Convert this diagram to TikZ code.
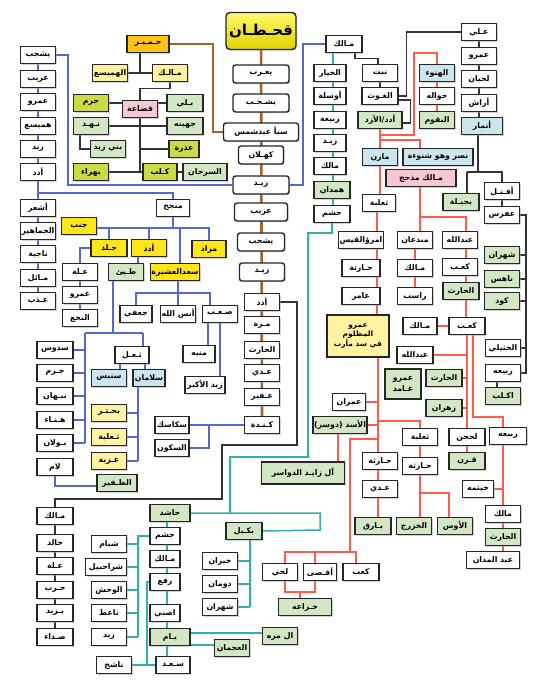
\documentclass[tikz,border=0pt]{standalone}
\usepackage{fontspec}
\newfontfamily\arb[Script=Arabic]{DejaVu Sans}
\TeXXeTstate=1
\usetikzlibrary{shadows}
\newcommand\AR[1]{\beginR#1\endR}
\definecolor{cY}{HTML}{FFE51A}
\definecolor{cO}{HTML}{FFC413}
\definecolor{cLY}{HTML}{FFF2A0}
\definecolor{cLime}{HTML}{CBDA45}
\definecolor{cG}{HTML}{D2E7C4}
\definecolor{cB}{HTML}{CBE6EF}
\definecolor{cP}{HTML}{F6C8D2}
\definecolor{lBr}{HTML}{A5622A}
\definecolor{lBl}{HTML}{5468D4}
\definecolor{lTe}{HTML}{2FB0AC}
\definecolor{lRe}{HTML}{FF5A4A}
\definecolor{lDk}{HTML}{333333}
\definecolor{qA}{HTML}{FFF86A}
\definecolor{qB}{HTML}{E2D300}
\pgfdeclarelayer{bg}
\pgfsetlayers{bg,main}
\tikzset{
  box/.style={draw=black!85,line width=1.4pt,fill=white,minimum height=17pt,minimum width=35pt,inner sep=1pt,
    drop shadow={shadow xshift=1.1pt,shadow yshift=-1.1pt,fill=black!35},
    font=\arb\bfseries\fontsize{7.8}{8.5}\selectfont},
  rbox/.style={box,rounded corners=2.5pt,minimum height=18pt},
  mw/.style={minimum width=#1pt},
  brl/.style={draw=lBr,line width=2.6pt},
  bll/.style={draw=lBl,line width=1.3pt},
  tll/.style={draw=lTe,line width=1.5pt},
  rdl/.style={draw=lRe,line width=1.5pt},
  dkl/.style={draw=lDk,line width=1.3pt},
}
\begin{document}
\begin{tikzpicture}[x=1pt,y=-1pt]
\useasboundingbox (0,0) rectangle (550,684);
% ---------- central column
\node[rbox,mw=70,minimum height=37pt,top color=qA,bottom color=qB,rounded corners=4pt,font=\arb\bfseries\fontsize{15}{17}\selectfont] (Q) at (261,31) {\AR{قحـطـان}};
\node[rbox,mw=56] (c1) at (261,74) {\AR{يعـرب}};
\node[rbox,mw=56] (c2) at (261,103) {\AR{يشـجـب}};
\node[rbox,mw=75] (c3) at (261,132) {\AR{سبأ عبدشمس}};
\node[rbox,mw=45] (c4) at (261,155) {\AR{كهـلان}};
\node[rbox,mw=56] (c5) at (261,185) {\AR{زيـد}};
\node[rbox,mw=53] (c6) at (261,212) {\AR{عريب}};
\node[rbox,mw=47] (c7) at (261,242) {\AR{يشجب}};
\node[rbox,mw=45] (c8) at (262,272) {\AR{زيـد}};
\node[box] (c9) at (262,302) {\AR{أدد}};
\node[box] (c10) at (262,325) {\AR{مـرة}};
\node[box] (c11) at (262,350) {\AR{الحارث}};
\node[box] (c12) at (262,373) {\AR{عـدي}};
\node[box] (c13) at (262,397) {\AR{عـفير}};
\node[box] (c14) at (262,425) {\AR{كـنـدة}};
% ---------- Himyar
\node[box,fill=cO,mw=42] (H) at (148,44) {\AR{حـمـيـر}};
\node[box,fill=cLY] (H1) at (110,73) {\AR{الهميسع}};
\node[box,fill=cLY] (H2) at (170,73) {\AR{مـالـك}};
\node[box,fill=cP] (QD) at (140,109) {\AR{قضاعة}};
\node[box,fill=cLime] (Q1) at (91,103) {\AR{جرم}};
\node[box,fill=cG] (Q2) at (91,126) {\AR{نـهـد}};
\node[box,fill=cG] (Q3) at (108,149) {\AR{بني زيد}};
\node[box,fill=cLime] (Q4) at (91,172) {\AR{بهراء}};
\node[box,fill=cG,mw=36] (Q5) at (185,103) {\AR{بـلي}};
\node[box,fill=cG,mw=36] (Q6) at (185,126) {\AR{جهينه}};
\node[box,fill=cLime,mw=30] (Q7) at (184,149) {\AR{عذرة}};
\node[box,fill=cLime,mw=34] (Q8) at (160,172) {\AR{كـلب}};
\node[box,fill=cG,mw=44] (Q9) at (205,172) {\AR{السرحان}};
% ---------- left column 1
\node[box] (L1) at (38,55) {\AR{يشجب}};
\node[box] (L2) at (38,79) {\AR{عريب}};
\node[box] (L3) at (38,102) {\AR{عمرو}};
\node[box] (L4) at (38,126) {\AR{هميسع}};
\node[box] (L5) at (38,149) {\AR{زيد}};
\node[box] (L6) at (38,172) {\AR{أدد}};
\node[box] (L7) at (38,208) {\AR{أشعر}};
\node[box] (L8) at (38,231) {\AR{الجماهير}};
\node[box] (L9) at (38,254) {\AR{ناجية}};
\node[box] (L10) at (38,278) {\AR{مـائل}};
\node[box] (L11) at (38,301) {\AR{عـذب}};
% ---------- Madhhij
\node[box,mw=33] (MJ) at (173,208) {\AR{منجح}};
\node[box,fill=cY] (J1) at (79,226) {\AR{جنب}};
\node[box,fill=cY,mw=36] (J2) at (109,248) {\AR{جـلد}};
\node[box,fill=cY] (J3) at (149,248) {\AR{أدد}};
\node[box,fill=cY,mw=34] (J4) at (209,249) {\AR{مراد}};
\node[box,fill=cY,mw=49] (J5) at (175,272) {\AR{سعدالعشيرة}};
\node[box,fill=cG] (T) at (126,272) {\AR{طـيئ}};
\node[box] (A1) at (80,272) {\AR{عـلة}};
\node[box] (A2) at (80,295) {\AR{عمرو}};
\node[box] (A3) at (80,318) {\AR{النخع}};
\node[box,mw=32] (S1) at (136,314) {\AR{جعفي}};
\node[box,mw=34] (S2) at (178,314) {\AR{أنس الله}};
\node[box] (S3) at (220,314) {\AR{صـعـب}};
\node[box,mw=32] (S4) at (199,354) {\AR{منبه}};
\node[box,mw=40] (S5) at (205,385) {\AR{زيد الأكبر}};
% ---------- Tayy
\node[box,mw=36] (D1) at (55,350) {\AR{سدوس}};
\node[box,mw=36] (D2) at (55,373) {\AR{جـرم}};
\node[box,mw=36] (D3) at (55,396) {\AR{نبـهان}};
\node[box,mw=36] (D4) at (55,420) {\AR{هـنـاء}};
\node[box,mw=36] (D5) at (55,443) {\AR{بـولان}};
\node[box,mw=36] (D6) at (55,467) {\AR{لام}};
\node[box,mw=34] (TH) at (132,355) {\AR{ثـعـل}};
\node[box,fill=cB] (SN) at (109,378) {\AR{سنبس}};
\node[box,fill=cB,mw=32] (SL) at (149,378) {\AR{سلامان}};
\node[box,fill=cLY] (BH) at (109,413) {\AR{بحـتـر}};
\node[box,fill=cLY] (TB) at (109,437) {\AR{ثـعلبة}};
\node[box,fill=cLY] (GZ) at (109,461) {\AR{غـزية}};
\node[box,fill=cG,mw=40] (DZ) at (117,483) {\AR{الظـفير}};
\node[box,mw=34] (SK) at (172,425) {\AR{سكاسك}};
\node[box,mw=34] (SU) at (172,448) {\AR{السكون}};
% ---------- right top
\node[box,mw=36] (M) at (344,44) {\AR{مـالك}};
\node[box,mw=32] (R1) at (330,73) {\AR{الخيار}};
\node[box,mw=32] (R2) at (330,96) {\AR{أوسلة}};
\node[box,mw=32] (R3) at (330,120) {\AR{ربيعة}};
\node[box,mw=32] (R4) at (330,143) {\AR{زيـد}};
\node[box,mw=32] (R5) at (330,166) {\AR{مالك}};
\node[box,fill=cG,mw=36] (R6) at (332,190) {\AR{همدان}};
\node[box,mw=36] (R7) at (332,214) {\AR{جشم}};
\node[box] (N1) at (380,73) {\AR{نبت}};
\node[box,mw=36] (N2) at (380,96) {\AR{الغـوث}};
\node[box,fill=cG,mw=44] (N3) at (380,120) {\AR{أدد/الأزد}};
\node[box] (E1) at (479,32) {\AR{عـلي}};
\node[box] (E2) at (479,56) {\AR{عمرو}};
\node[box] (E3) at (479,79) {\AR{لحيان}};
\node[box] (E4) at (479,103) {\AR{أراش}};
\node[box,fill=cB,mw=41] (E5) at (482,126) {\AR{أنمار}};
\node[box,fill=cG,mw=36] (BJ) at (461,202) {\AR{بجيـلة}};
\node[box] (AF) at (502,191) {\AR{أفـتـل}};
\node[box] (AR) at (502,215) {\AR{عفرس}};
\node[box,fill=cG] (SH) at (502,255) {\AR{شهران}};
\node[box,fill=cG] (NH) at (502,279) {\AR{ناهس}};
\node[box,fill=cG] (KD) at (502,301) {\AR{كود}};
\node[box] (KH) at (503,348) {\AR{الخثيلي}};
\node[box] (RB) at (503,373) {\AR{ربيعه}};
\node[box,fill=cG] (AK) at (503,396) {\AR{اكـلب}};
% ---------- Azd
\node[box,fill=cB] (HN) at (437,73) {\AR{الهنوء}};
\node[box] (HW) at (437,96) {\AR{حواله}};
\node[box,fill=cG] (BQ) at (437,120) {\AR{البقوم}};
\node[box,fill=cB] (MZ) at (380,157) {\AR{مازن}};
\node[box,fill=cB,mw=70] (NS) at (438,157) {\AR{نصر وهو شنوءة}};
\node[box,fill=cP,mw=70] (MMZ) at (421,178) {\AR{مـالك مذحج}};
\node[box,mw=33] (TL) at (379,203) {\AR{ثعلبة}};
\node[box,mw=38] (IQ) at (361,240) {\AR{امرؤالقيس}};
\node[box,mw=38] (HA) at (361,268) {\AR{حـارثة}};
\node[box,mw=38] (AM1) at (361,296) {\AR{عامر}};
\node[box,fill=cLY,mw=62,minimum height=42pt,align=center,font=\arb\bfseries\fontsize{7.4}{9}\selectfont] (AM) at (358,336) {\AR{عمرو}\\\AR{المظلوم}\\\AR{في سد مأرب}};
\node[box] (MB) at (415,240) {\AR{مبدعان}};
\node[box] (MK) at (415,268) {\AR{مـالك}};
\node[box] (RS) at (415,296) {\AR{راسب}};
\node[box] (AB) at (460,240) {\AR{عبدالله}};
\node[box] (KB) at (460,267) {\AR{كعـب}};
\node[box,fill=cG,mw=36] (HR) at (461,291) {\AR{الحارث}};
\node[box,mw=36] (KB2) at (467,326) {\AR{كعـب}};
\node[box,mw=34] (MK2) at (420,326) {\AR{مـالك}};
\node[box,mw=36] (AB2) at (415,355) {\AR{عبدالله}};
\node[box,fill=cG,mw=36,minimum height=30pt,align=center,font=\arb\bfseries\fontsize{7.8}{10.5}\selectfont] (AG) at (403,384) {\AR{عمرو}\\\AR{غـامد}};
\node[box,fill=cG,mw=36] (HR2) at (444,378) {\AR{الحارث}};
\node[box,fill=cG,mw=36] (ZH) at (444,408) {\AR{زهران}};
\node[box,mw=36] (LH) at (467,437) {\AR{لحجن}};
\node[box,fill=cG,mw=36] (QR) at (467,461) {\AR{قـرن}};
\node[box,mw=37] (RB2) at (508,436) {\AR{ربيعه}};
\node[box,mw=31] (KT) at (478,489) {\AR{خيثمه}};
\node[box] (ML) at (503,514) {\AR{مالك}};
\node[box,fill=cG] (HR3) at (503,537) {\AR{الحارث}};
\node[box,mw=53] (AD) at (493,560) {\AR{عبد المدان}};
\node[box,mw=33] (IM) at (349,402) {\AR{عمران}};
\node[box,fill=cG,mw=51] (AS) at (340,425) {\AR{الأسد (دوسر)}};
\node[box,fill=cG,mw=83,minimum height=22pt] (ZD) at (303,473) {\AR{آل زايـد الدواسر}};
\node[box] (TL2) at (420,437) {\AR{ثعلبة}};
\node[box] (HT) at (420,466) {\AR{حـارثة}};
\node[box] (HT2) at (380,461) {\AR{حـارثة}};
\node[box] (AD2) at (380,489) {\AR{عـدي}};
\node[box,fill=cG,mw=36] (BR) at (373,526) {\AR{بـارق}};
\node[box,fill=cG] (KZ) at (414,526) {\AR{الخزرج}};
\node[box,fill=cG] (AW) at (455,526) {\AR{الأوس}};
\node[box] (LI) at (280,572) {\AR{لحي}};
\node[box,mw=33] (AQ) at (320,572) {\AR{أقـصى}};
\node[box,mw=36] (KB3) at (361,572) {\AR{كعب}};
\node[box,fill=cG,mw=53] (KZ2) at (305,607) {\AR{خـزاعه}};
% ---------- Hamdan
\node[box,fill=cG,mw=40] (HS) at (170,513) {\AR{حاشد}};
\node[box,mw=30] (JS) at (165,536) {\AR{جشم}};
\node[box,mw=30] (MK3) at (165,559) {\AR{مـالك}};
\node[box,mw=30] (RF) at (165,582) {\AR{رفع}};
\node[box,mw=30] (AS2) at (165,613) {\AR{اصبي}};
\node[box,fill=cG,mw=40] (YM) at (170,637) {\AR{يـام}};
\node[box,mw=34] (SD) at (173,665) {\AR{سـعـد}};
\node[box] (SB) at (109,544) {\AR{شبام}};
\node[box,mw=41] (SR) at (106,567) {\AR{شراحبيل}};
\node[box] (WH) at (109,590) {\AR{الوحش}};
\node[box] (NT) at (109,613) {\AR{ناعط}};
\node[box] (ZY) at (109,637) {\AR{زيد}};
\node[box] (NH2) at (114,665) {\AR{ناشح}};
\node[box,fill=cG,mw=36] (BK) at (244,531) {\AR{بكـيل}};
\node[box] (KR) at (220,561) {\AR{خيران}};
\node[box] (DM) at (220,584) {\AR{دومان}};
\node[box] (SH2) at (220,607) {\AR{شهران}};
\node[box,fill=cG] (MR) at (280,636) {\AR{ال مره}};
\node[box,fill=cG] (AJ) at (232,648) {\AR{العجمان}};
\node[box,mw=36] (ML1) at (55,516) {\AR{مـالك}};
\node[box,mw=36] (KL) at (55,543) {\AR{خالد}};
\node[box,mw=36] (AL) at (55,566) {\AR{عـلة}};
\node[box,mw=36] (HB) at (55,590) {\AR{حـرب}};
\node[box,mw=36] (YZ) at (55,613) {\AR{يـزيد}};
\node[box,mw=36] (SDA) at (55,637) {\AR{صـداء}};

\begin{pgfonlayer}{bg}
\fill[white] (0,0) rectangle (550,684);
% brown
\draw[brl] (Q) -- (c14);
\draw[brl] (H.east) -- (213,44) |- (c3.west);
% Himyar (dark)
\draw[dkl] (H.south -| QD) -- (H1 -| QD);
\draw[dkl] (H1) -- (H2);
\draw[dkl] (H2.south) -- ++(0,6) -| (QD.north);
\draw[dkl] (Q1) -- (Q5);
\draw[dkl] (QD) -- (QD |- Q4);
\draw[dkl] (Q2) -- (Q6);
\draw[dkl] (QD |- Q7) -- (Q7);
\draw[dkl] (Q4) -- (Q9);
\draw[dkl] ([xshift=-11pt]Q2.south) |- (Q3.west);
% blue left
\draw[bll] (L1) -- (L11);
\draw[bll] (L1.east) -| (68,185) -- (c5.west);
\draw[bll] (M.west) -| (303,185) -- (c5.east);
\draw[bll] (38,193) -| (MJ.north);
\draw[bll] (MJ.south) -- (173,228);
\draw[bll] (J1.east) ++(0,2) -- (209,228) -- (J4.north);
\draw[bll] (109,228) -- (J2.north);
\draw[bll] (149,228) -- (J3.north);
\draw[bll] (180,228) -- (180,264);
\draw[bll] ([xshift=-11pt]J3.south) -- ([xshift=12pt]T.north);
\draw[bll] (J2.west) -| (A3);
\draw[bll] (J5.south -| S2) -- (S2.north);
\draw[bll] (S1.north) -- (136,293) -- (210,293) -- (210,305.5);
\draw[bll] ([xshift=-12pt]S3.south) -- ([xshift=9pt]S4.north);
\draw[bll] (S3.south) -- (S3.south |- S5.north);
\draw[bll] ([xshift=-13pt]T.south) -- (113,333);
\draw[bll] (85,333) -- (143,333);
\draw[bll] (85,333) -- (85,443);
\draw[bll] (143,333) -- (143,347);
\foreach \n in {D1,D2,D3,D4,D5} \draw[bll] (\n.east) -- (85,0 |- \n);
\draw[bll] (120,363) -- (120,370);
\draw[bll] (145,363) -- (145,370);
\draw[bll] (138,387) -- (138,461);
\foreach \n in {BH,TB,GZ} \draw[bll] (\n.east) -- (138,0 |- \n);
\draw[bll] (D6.south) |- ([yshift=-3pt]DZ.west);
\draw[bll] (c14.west) -- (209,425) -- (209,448) -- (SU.east);
\draw[bll] (SK.east) -- (209,425);
% teal
\draw[tll] ([xshift=-11pt]M.south) -- ([xshift=1pt]R7.north);
\draw[tll] (R7.south) -- (332,233) -- (308,233) -- (308,457) -- (230,457) -- (230,513);
\draw[tll] (HS.east) -- (320,513) -- (320,530) -- (BK.east);
\draw[tll] (167,513) -- (167,657);
\draw[tll] (JS.west) -- (138,536) -- (138,637);
\foreach \n in {SB,SR,WH,NT,ZY} \draw[tll] (\n.east) -- (138,0 |- \n);
\draw[tll] (RF.west) -- (147,582) -- (147,665);
\draw[tll] (NH2.east) -- (SD.west);
\draw[tll] ([yshift=4pt]YM.east) -- ([yshift=4pt]YM.east -| MR.west);
\draw[tll] ([yshift=-8pt]YM.east) -- ([yshift=-8pt]YM.east -| AJ.west);
\draw[tll] ([xshift=6pt]BK.south) -- (250,607);
\foreach \n in {KR,DM,SH2} \draw[tll] (\n.east) -- (250,0 |- \n);
% dark (right + lower)
\draw[dkl] ([xshift=11pt]M.south) -- ++(0,5) -| ([xshift=-2pt]N1.north);
\draw[dkl] (N1) -- (N2);
\draw[dkl] (E1.west) -| ([xshift=8pt]N2.east) -- (N2.east);
\draw[dkl] ([yshift=-4pt]N2.east) -- ++(12,0) |- ([yshift=-3pt]N3.east);
\draw[dkl] (E1) -- (E1 |- E5.north);
\draw[dkl] ([xshift=-4pt]E5.south) -- (478,172);
\draw[dkl] (467,172) -- (502,172) -- (AF.north);
\draw[dkl] (467,172) -- (467,193.5);
\draw[dkl] (AF) -- (AR);
\draw[dkl] (AR.east) -- (526,215) -- (526,373) -- (RB.east);
\foreach \n in {SH,NH,KD,KH} \draw[dkl] (\n.east) -- (526,0 |- \n);
\draw[dkl] ([xshift=-6pt]RB.south) -- ([xshift=-6pt]AK.north);
\draw[dkl] (c9.east) -- (297,302) -- (297,445) -- (222,445) -- (222,499) -- (55,499) -- (ML1.north);
\draw[dkl] (ML1) -- (SDA);
% red
\draw[rdl] (N3.south) |- (414,135) -- (414,53) -| (HN.north);
\draw[rdl] (HN) -- (BQ);
\draw[rdl] (380,140) -| ([xshift=-18pt]NS.north);
\draw[rdl] (N3) -- (N3 |- TL.north);
\draw[rdl] ([xshift=-2pt]TL.south) -- ([xshift=19pt]AM.north);
\draw[rdl] (420,187) -- (420,232);
\draw[rdl] (420,217) -| ([xshift=6pt]AB.north);
\draw[rdl] (MB) -- (RS);
\draw[rdl] ([xshift=6pt]AB.south) -- ([xshift=-1pt]KB2.north);
\draw[rdl] (MK2) -- (KB2);
\draw[rdl] (KB2) -- (LH);
\draw[rdl] ([xshift=6pt]KB2.south) -- (473,417) -- (503,417) -- (503,427.5);
\foreach \n in {AB2,HR2,ZH} \draw[rdl] (\n.east) -- (467,0 |- \n);
\draw[rdl] (LH) -- (QR);
\draw[rdl] (503,445) -- (503,551.5);
\draw[rdl] (KT.east) -- (503,489);
\draw[rdl] ([xshift=20pt]AM.south) -- (378,517.5);
\draw[rdl] (IM.east) -- (378,0 |- IM);
\draw[rdl] (AS.east) -- (378,0 |- AS);
\draw[rdl] (378,421) -| (TL2.north);
\draw[rdl] ([xshift=-2pt]AS.south) -- ([xshift=-2pt]AS.south |- ZD.north);
\draw[rdl] (TL2) -- (HT);
\draw[rdl] (HT.south) -- (HT.south |- KZ.north);
\draw[rdl] (420,493) -- (449,493) -- (449,517.5);
\draw[rdl] (378,439) -- (350,439) -- (350,552);
\draw[rdl] (285,563.5) -- (285,552) -- (356,552) -- (356,563.5);
\draw[rdl] (315,552) -- (315,563.5);
\draw[rdl] (285,580.5) -- (285,592) -- (315,592) -- (315,580.5);
\draw[rdl] (300,592) -- (300,598.5);
\end{pgfonlayer}
\end{tikzpicture}
\end{document}
